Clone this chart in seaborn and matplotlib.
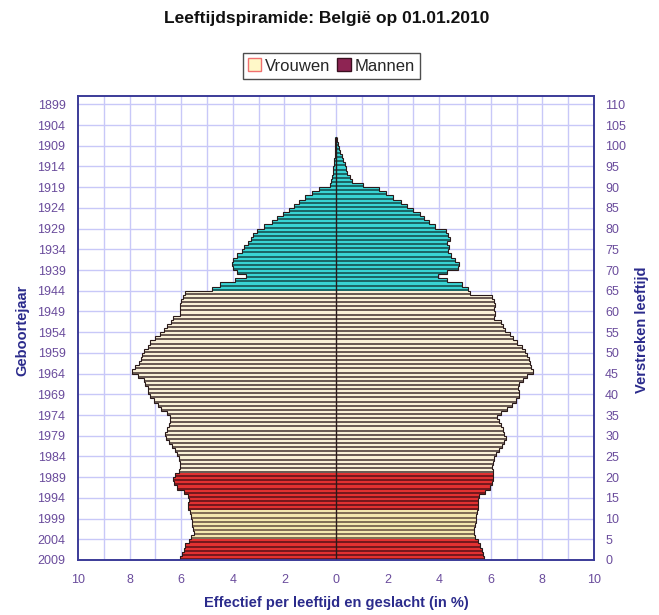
import numpy as np
import pandas as pd
import seaborn as sns
import matplotlib
matplotlib.use('Agg')
import matplotlib.pyplot as plt
from matplotlib.patches import Patch

# leeftijden 0..101, waarden in % (links = mannen, rechts = vrouwen)
ages = list(range(0, 102))

mannen = [
    6.03, 5.97, 5.90, 5.84, 5.71, 5.62, 5.49, 5.54, 5.58, 5.58,   # 0-9
    5.62, 5.65, 5.75, 5.75, 5.71, 5.75, 5.90, 6.16, 6.29, 6.32,   # 10-19
    6.23, 6.10, 6.06, 6.03, 6.10, 6.16, 6.23, 6.36, 6.48, 6.58,   # 20-29
    6.62, 6.55, 6.48, 6.45, 6.42, 6.55, 6.78, 6.91, 7.07, 7.22,   # 30-39
    7.30, 7.30, 7.39, 7.46, 7.69, 7.91, 7.78, 7.65, 7.56, 7.52,   # 40-49
    7.46, 7.30, 7.20, 7.00, 6.81, 6.68, 6.55, 6.40, 6.32, 6.04,   # 50-59
    6.04, 6.04, 6.00, 5.93, 5.84, 4.80, 4.50, 3.90, 3.50, 3.85,   # 60-69
    4.00, 4.03, 4.00, 3.85, 3.65, 3.55, 3.42, 3.30, 3.20, 3.05,   # 70-79
    2.80, 2.50, 2.28, 2.05, 1.82, 1.62, 1.42, 1.19, 0.93, 0.67,   # 80-89
    0.25, 0.20, 0.17, 0.13, 0.10, 0.08, 0.06, 0.05, 0.04, 0.03,   # 90-99
    0.02, 0.02,                                                   # 100-101
]

vrouwen = [
    5.75, 5.70, 5.66, 5.57, 5.49, 5.40, 5.33, 5.36, 5.40, 5.44,   # 0-9
    5.44, 5.46, 5.49, 5.49, 5.49, 5.53, 5.79, 5.98, 6.04, 6.08,   # 10-19
    6.08, 6.07, 6.04, 6.07, 6.11, 6.21, 6.30, 6.43, 6.50, 6.58,   # 20-29
    6.52, 6.47, 6.39, 6.32, 6.24, 6.41, 6.63, 6.84, 6.99, 7.08,   # 30-39
    7.10, 7.06, 7.08, 7.26, 7.40, 7.65, 7.56, 7.52, 7.47, 7.40,   # 40-49
    7.32, 7.19, 7.01, 6.86, 6.76, 6.56, 6.47, 6.39, 6.11, 6.15,   # 50-59
    6.13, 6.17, 6.13, 6.04, 5.20, 5.10, 4.90, 4.30, 3.95, 4.30,   # 60-69
    4.72, 4.75, 4.60, 4.45, 4.35, 4.38, 4.30, 4.40, 4.35, 4.25,   # 70-79
    3.85, 3.60, 3.40, 3.24, 3.00, 2.75, 2.50, 2.20, 1.95, 1.68,   # 80-89
    1.06, 0.62, 0.53, 0.43, 0.38, 0.33, 0.28, 0.22, 0.16, 0.10,   # 90-99
    0.06, 0.03,                                                   # 100-101
]

# kleurzones per leeftijd (van, tot en met, zone)
bands = [(0, 4, 'rood'), (5, 11, 'geel'), (12, 20, 'rood'), (21, 64, 'beige'), (65, 101, 'cyaan')]

age_ticks = list(range(0, 111, 5))
year_labels = [str(2009 - a) for a in age_ticks]
x_ticks = list(range(-10, 11, 2))

palette = {
    'rood-Vrouwen': '#FF1414', 'rood-Mannen': '#86080F',
    'geel-Vrouwen': '#FFEFA4', 'geel-Mannen': '#8A7050',
    'beige-Vrouwen': '#FFF3D0', 'beige-Mannen': '#6E5A50',
    'cyaan-Vrouwen': '#1EEEEE', 'cyaan-Mannen': '#0F7474',
}


def band_of(age):
    for lo, hi, name in bands:
        if lo <= age <= hi:
            return name
    return 'cyaan'


rows = []
for i, age in enumerate(ages):
    band = band_of(age)
    for sex, off in (('Vrouwen', 0.75), ('Mannen', 0.25)):
        rows.append({'pos': age + off, 'rechts': vrouwen[i], 'links': -mannen[i],
                     'kleur': f'{band}-{sex}'})
df = pd.DataFrame(rows)

sns.set_style('white')
plt.rcParams['font.family'] = ['Liberation Sans', 'DejaVu Sans']

fig = plt.figure(figsize=(6.59, 6.15), dpi=100)
ax = fig.add_axes([78 / 659, 55 / 615, 516 / 659, 464 / 615])

grid_c = '#C8C8F8'
for xv in range(-9, 10):
    ax.axvline(xv, color=grid_c, lw=1, zorder=0)
for yv in age_ticks[1:]:
    ax.axhline(yv, color=grid_c, lw=1, zorder=0)

for col in ('rechts', 'links'):
    sns.barplot(data=df, x=col, y='pos', hue='kleur', palette=palette, orient='y',
                native_scale=True, dodge=False, width=1, errorbar=None,
                linewidth=0, legend=False, ax=ax, zorder=2)

# elke strook een halve leeftijd hoog, rond het midden dat seaborn gaf
for p in ax.patches:
    mid = p.get_y() + p.get_height() / 2
    p.set_height(0.5)
    p.set_y(mid - 0.25)

# trapvormige omtrek van de piramide
edges = ages + [ages[-1] + 1]
ax.stairs(vrouwen, edges, orientation='horizontal', baseline=None,
          color='#2A1A1A', lw=0.8, zorder=3)
ax.stairs([-v for v in mannen], edges, orientation='horizontal', baseline=None,
          color='#2A1A1A', lw=0.8, zorder=3)

# donkere middenlijn
ax.axvline(0, ymin=0, ymax=102 / 112, color='#2A1A1A', lw=1.0, zorder=3)

ax.set_xlim(-10, 10)
ax.set_ylim(0, 112)

tick_c = '#6A4C9C'
lab_c = '#2B2B8C'
ax.set_xticks(x_ticks)
ax.set_xticklabels([str(abs(v)) for v in x_ticks], color=tick_c, fontsize=9)
ax.set_xticks(range(-10, 11), minor=True)
ax.set_yticks(age_ticks)
ax.set_yticklabels(year_labels, color=tick_c, fontsize=9)
ax.tick_params(axis='x', which='both', direction='in', length=3, pad=10, color='#3B3B98')
ax.tick_params(axis='y', direction='out', length=0, pad=9)

ax2 = ax.twinx()
ax2.set_ylim(ax.get_ylim())
ax2.set_yticks(age_ticks)
ax2.set_yticklabels([str(a) for a in age_ticks], color=tick_c, fontsize=9)
ax2.tick_params(axis='y', length=0, pad=8)

for a in (ax, ax2):
    for s in a.spines.values():
        s.set_color('#3B3B98')
        s.set_linewidth(1.2)

ax.set_xlabel('Effectief per leeftijd en geslacht (in %)', fontsize=10.5,
              fontweight='bold', color=lab_c)
ax.xaxis.set_label_coords(0.5, -0.078)
ax.set_ylabel('Geboortejaar', fontsize=10.5, fontweight='bold', color=lab_c)
ax.yaxis.set_label_coords(-0.095, 0.496)
ax2.set_ylabel('Verstreken leeftijd', fontsize=10.5, fontweight='bold', color=lab_c)
ax2.yaxis.set_label_coords(1.08, 0.496)

fig.text(0.495, 1 - 18 / 615, 'Leeftijdspiramide: België op 01.01.2010',
         ha='center', va='center', fontsize=12.5, fontweight='bold', color='#111111')

handles = [Patch(facecolor='#FFF8C8', edgecolor='#F07070', label='Vrouwen'),
           Patch(facecolor='#8E2453', edgecolor='#3A1020', label='Mannen')]
leg = fig.legend(handles=handles, loc='center', bbox_to_anchor=(0.503, 1 - 66 / 615),
                 ncol=2, fontsize=12, frameon=True, fancybox=False, edgecolor='#222222',
                 handlelength=0.8, handleheight=0.8, handletextpad=0.25, columnspacing=0.4,
                 borderpad=0.3, borderaxespad=0)
leg.get_frame().set_linewidth(1.0)

fig.savefig('out.png', dpi=100)
